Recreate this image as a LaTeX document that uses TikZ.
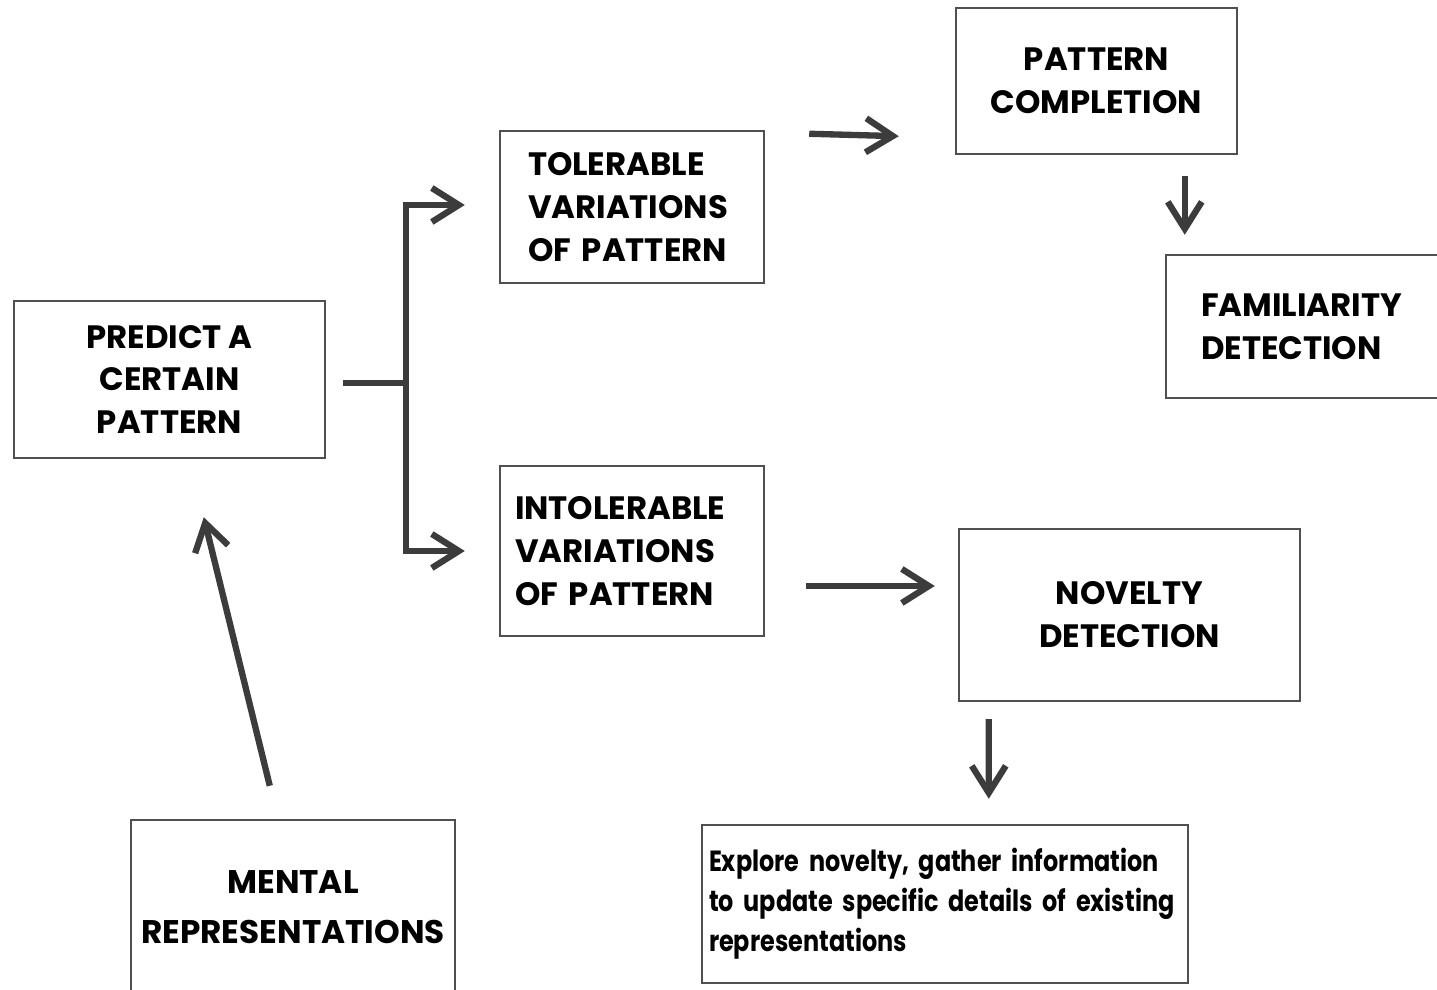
\documentclass[tikz,border=0pt]{standalone}
\usepackage{fontspec}
\setmainfont{Poppins}
\newfontfamily\narrowfont{Poppins}[FakeStretch=0.82]
\usetikzlibrary{arrows.meta}

\definecolor{linegray}{HTML}{3C3C3C}
\definecolor{framegray}{HTML}{505050}

\tikzset{
  box/.style={draw=framegray, line width=0.7pt, inner sep=0pt,
    font=\fontsize{9.2}{12.2}\selectfont\bfseries},
  leftbox/.style={box, align=left},
  midbox/.style={box, align=center},
  link/.style={draw=linegray, line width=1.8pt},
  arrow/.style={link, -{Straight Barb[length=2.7mm,width=3.4mm]}}
}

\begin{document}
\begin{tikzpicture}

\useasboundingbox (0,0) rectangle (14.37,9.90);
\clip (0,0) rectangle (14.37,9.90);

\node[midbox, minimum width=3.11cm, minimum height=1.57cm] (predict) at (1.695,6.105)
  {PREDICT A\\CERTAIN\\PATTERN};

\node[leftbox, text width=2.08cm, minimum width=2.64cm, minimum height=1.52cm] (tolerable) at (6.32,7.83)
  {TOLERABLE\\VARIATIONS\\OF PATTERN};

\node[leftbox, text width=2.34cm, minimum width=2.64cm, minimum height=1.70cm] (intolerable) at (6.32,4.39)
  {INTOLERABLE\\VARIATIONS\\OF PATTERN};

\node[midbox, minimum width=2.81cm, minimum height=1.46cm] (completion) at (10.965,9.09)
  {PATTERN\\COMPLETION};

\node[leftbox, text width=2.11cm, minimum width=2.81cm, minimum height=1.43cm] (familiarity) at (13.065,6.635)
  {FAMILIARITY\\DETECTION};

\node[midbox, minimum width=3.41cm, minimum height=1.72cm] (novelty) at (11.295,3.75)
  {NOVELTY\\DETECTION};

\node[midbox, minimum width=3.24cm, minimum height=1.74cm,
      font=\fontsize{9.3}{14.2}\selectfont\bfseries] (mental) at (2.93,0.83)
  {MENTAL\\REPRESENTATIONS};

\node[leftbox, text width=4.72cm, minimum width=4.86cm, minimum height=1.58cm,
      font=\narrowfont\fontsize{8.3}{11.4}\selectfont\bfseries] (explore) at (9.45,0.86)
  {Explore novelty, gather information\\to update specific details of existing\\representations};

% fork out of the prediction
\coordinate (fork) at ([shift={(0.80,-0.035)}]predict.east);
\draw[link] ([shift={(0.17,-0.035)}]predict.east) -- (fork);
\draw[arrow] (fork) |- ([xshift=-3.4mm,yshift=0.2mm]tolerable.west);
\draw[arrow] (fork) |- ([xshift=-3.4mm]intolerable.west);

\draw[arrow] ([shift={(0.44,-0.04)}]tolerable.north east) -- ([shift={(-0.56,0.19)}]completion.south west);
\draw[arrow] ([shift={(0.20,-0.21)}]completion.south -| familiarity.west) -- ([shift={(0.20,0.19)}]familiarity.north west);

\draw[arrow] ([shift={(0.41,-0.35)}]intolerable.east) -- ([shift={(-0.23,0.29)}]novelty.west);
\draw[arrow] ([shift={(0.31,-0.17)}]novelty.south west) -- ([shift={(2.88,0.25)}]explore.north west);

\draw[arrow] ([shift={(1.40,0.33)}]mental.north west) -- ([shift={(1.91,-0.58)}]predict.south west);

\end{tikzpicture}
\end{document}
